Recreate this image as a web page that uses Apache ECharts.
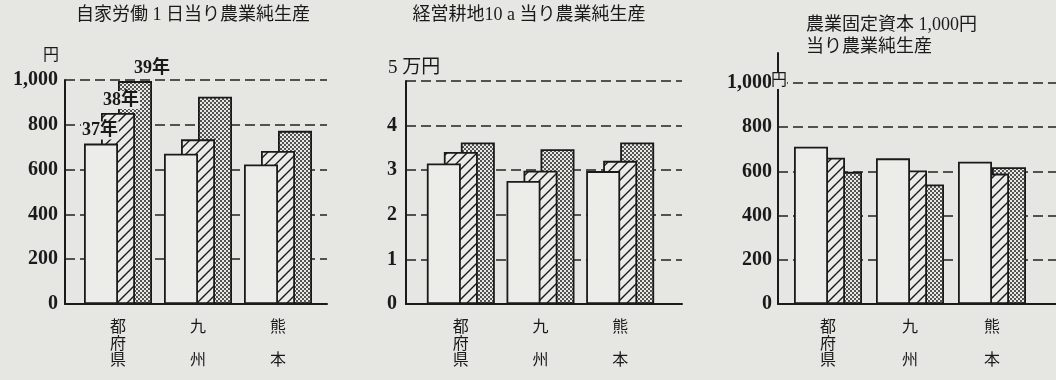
<!DOCTYPE html>
<html>
<head>
<meta charset="utf-8">
<script src="https://cdn.jsdelivr.net/npm/echarts@6/dist/echarts.min.js"></script>
<style>
html, body { margin: 0; padding: 0; background: #e6e6e3; }
#chart { width: 1056px; height: 380px; }
</style>
</head>
<body>
<div id="chart"></div>
<script>
'use strict';

var years = ['37年', '38年', '39年'];
var regions = ['都\n府\n県', '九\n\n州', '熊\n\n本'];

// 自家労働1日当り農業純生産 (円)
var labor37 = [716, 671, 623];
var labor38 = [853, 735, 683];
var labor39 = [995, 925, 773];
var laborTicks = ['0', '200', '400', '600', '800', '1,000'];

// 経営耕地10a当り農業純生産 (万円)
var land37 = [3.15, 2.76, 2.98];
var land38 = [3.41, 2.99, 3.21];
var land39 = [3.62, 3.47, 3.62];
var landTicks = ['0', '1', '2', '3', '4', ''];

// 農業固定資本1,000円当り農業純生産 (円)
var capital37 = [712, 659, 644];
var capital38 = [662, 604, 590];
var capital39 = [598, 541, 619];
var capitalTicks = ['0', '200', '400', '600', '800', '1,000'];

var BG = '#e6e6e3';
var INK = '#1a1a1a';
var NUM_FONT = "'Liberation Serif', 'Noto Sans CJK JP', serif";
var JP_FONT = "'Liberation Serif', 'Noto Sans CJK JP', sans-serif";
var ZERO_Y = 304;

// layout of the three panels (pixels)
var panels = [
   { series: [labor37, labor38, labor39], ticks: laborTicks, max: 1000, interval: 200,
     axisX: 65, axisEnd: 327, top: 80, lineTop: 80, barLeft: 78, barRight: 318, margin: 7, yearLabels: true },
   { series: [land37, land38, land39], ticks: landTicks, max: 5, interval: 1,
     axisX: 406, axisEnd: 682, top: 81, lineTop: 81, barLeft: 421, barRight: 660, margin: 9 },
   { series: [capital37, capital38, capital39], ticks: capitalTicks, max: 1000, interval: 200,
     axisX: 778, axisEnd: 1056, top: 83, lineTop: 53, barLeft: 787, barRight: 1033, margin: 6 }
];

function makeHatch () {
   var c = document.createElement('canvas');
   c.width = 10; c.height = 10;
   var g = c.getContext('2d');
   g.fillStyle = '#ebebe8';
   g.fillRect(0, 0, 10, 10);
   g.strokeStyle = INK;
   g.lineWidth = 1.4;
   g.beginPath();
   g.moveTo(-2, 12); g.lineTo(12, -2);
   g.moveTo(-2, 2); g.lineTo(2, -2);
   g.moveTo(8, 12); g.lineTo(12, 8);
   g.stroke();
   return c;
}

function makeDots () {
   var c = document.createElement('canvas');
   c.width = 4; c.height = 4;
   var g = c.getContext('2d');
   g.fillStyle = '#e8e8e5';
   g.fillRect(0, 0, 4, 4);
   g.fillStyle = '#222';
   g.beginPath();
   g.arc(1, 1, 1, 0, Math.PI * 2);
   g.arc(3, 3, 1, 0, Math.PI * 2);
   g.fill();
   return c;
}

var fills = [
   '#ecece9',
   { image: makeHatch(), repeat: 'repeat' },
   { image: makeDots(), repeat: 'repeat' }
];
var labelShift = [[-1, 0], [3, 0], [17, 0]];

var grids = [], xAxes = [], yAxes = [], series = [];

panels.forEach(function (p, i) {
   var a = i * 2, b = i * 2 + 1;
   var bottom = 380 - ZERO_Y;

   grids.push({ left: p.barLeft, top: p.lineTop, width: p.barRight - p.barLeft, bottom: bottom });
   grids.push({ left: p.axisX, top: p.top, width: p.axisEnd - p.axisX, bottom: bottom });

   xAxes.push({
      gridIndex: a, type: 'category', data: regions,
      axisLine: { show: false }, axisTick: { show: false },
      axisLabel: { margin: 16, fontSize: 16, lineHeight: 16.5, color: INK, fontFamily: JP_FONT }
   });
   xAxes.push({
      gridIndex: b, type: 'value', min: 0, max: 1,
      axisLine: { show: true, lineStyle: { color: INK, width: 2 } },
      axisTick: { show: false }, axisLabel: { show: false }, splitLine: { show: false }
   });

   yAxes.push({
      gridIndex: a, type: 'value', min: 0,
      max: p.max * (ZERO_Y - p.lineTop) / (ZERO_Y - p.top),
      offset: p.barLeft - p.axisX,
      axisLine: { show: true, lineStyle: { color: INK, width: 2 } },
      axisTick: { show: false }, axisLabel: { show: false }, splitLine: { show: false }
   });
   yAxes.push({
      gridIndex: b, type: 'value', min: 0, max: p.max, interval: p.interval,
      axisLine: { show: false }, axisTick: { show: false },
      axisLabel: {
         margin: p.margin, fontSize: 20, fontWeight: 'bold', color: INK, fontFamily: NUM_FONT,
         formatter: function (v) { return p.ticks[Math.round(v / p.interval)]; }
      },
      splitLine: { show: true, lineStyle: { type: [10, 5], color: '#222', width: 1.5 } }
   });

   p.series.forEach(function (vals, k) {
      series.push({
         name: years[k], type: 'bar', xAxisIndex: a, yAxisIndex: a,
         barWidth: 34, barGap: '-50%', z: 4 - k,
         itemStyle: { color: fills[k], borderColor: INK, borderWidth: 1.8 },
         data: vals.map(function (v, j) {
            if (!p.yearLabels || j !== 0) {
               return v;
            }
            return {
               value: v,
               label: {
                  show: true, position: 'top', distance: 4, offset: labelShift[k],
                  formatter: years[k], fontSize: 18, fontWeight: 'bold',
                  fontFamily: NUM_FONT, color: INK, backgroundColor: BG, padding: [0, 1]
               }
            };
         })
      });
   });
});

var titles = [
   { text: '自家労働 1 日当り農業純生産', left: 193, top: 6, textAlign: 'center' },
   { text: '経営耕地10 a 当り農業純生産', left: 529, top: 6, textAlign: 'center' },
   { text: '農業固定資本 1,000円\n当り農業純生産', left: 806, top: 14, lineHeight: 22 },
   { text: '円', left: 51, top: 48, textAlign: 'center', fontSize: 16 },
   { text: '5 万円', left: 388, top: 59, fontSize: 19 },
   { text: '円', left: 779, top: 73, textAlign: 'center', fontSize: 16, bg: true }
].map(function (t) {
   return {
      text: t.text, left: t.left, top: t.top, textAlign: t.textAlign, padding: 0,
      backgroundColor: t.bg ? BG : 'transparent',
      textStyle: {
         fontSize: t.fontSize || 18, fontWeight: 'normal', color: INK,
         fontFamily: JP_FONT, lineHeight: t.lineHeight
      }
   };
});

var myChart = echarts.init(document.getElementById('chart'));
myChart.setOption({
   backgroundColor: BG,
   animation: false,
   title: titles,
   grid: grids,
   xAxis: xAxes,
   yAxis: yAxes,
   series: series
});
</script>
</body>
</html>
